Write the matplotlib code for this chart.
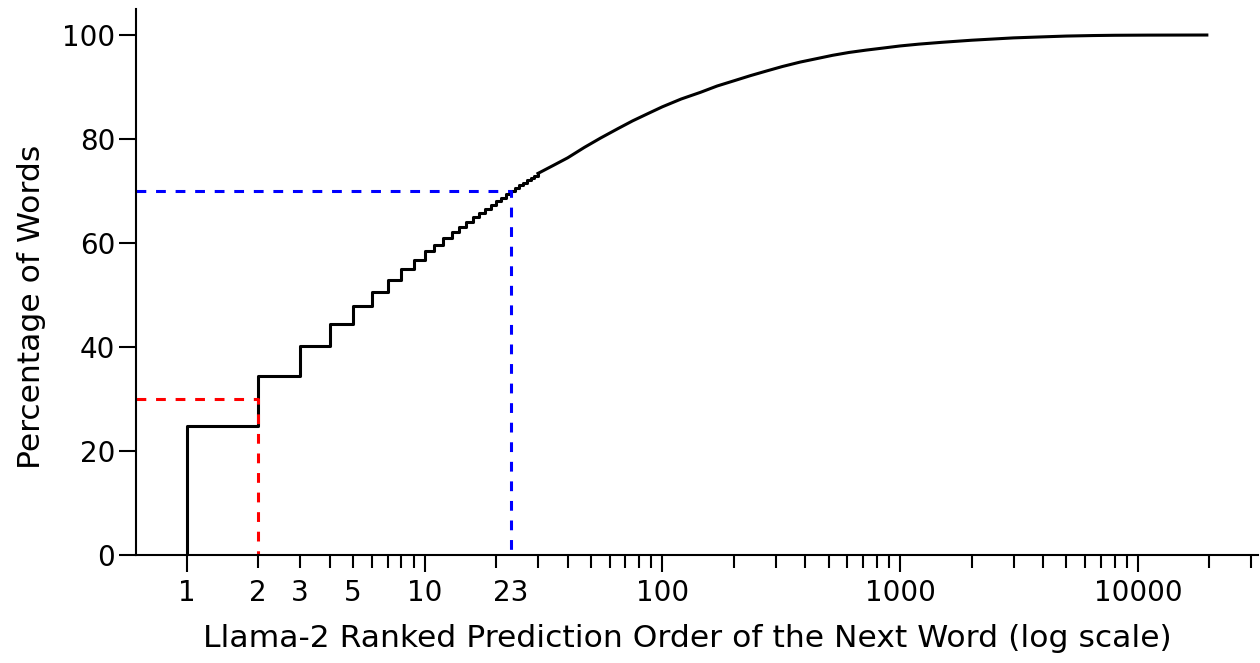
import matplotlib
matplotlib.use("Agg")
import matplotlib.pyplot as plt
from matplotlib.ticker import FixedLocator, FuncFormatter

# Cumulative share of words by rank of the true next word
step_rank = [1, 1, 2, 3, 4, 5, 6, 7, 8, 9, 10, 11, 12, 13, 14, 15, 16, 17, 18,
             19, 20, 21, 22, 23, 24, 25, 26, 27, 28, 29, 30]
step_pct = [0, 24.9, 34.4, 40.3, 44.5, 47.9, 50.6, 53.0, 55.0, 56.8, 58.4, 59.7,
            60.9, 62.2, 63.2, 64.1, 65.0, 65.8, 66.6, 67.4, 68.1, 68.7, 69.4,
            70.05, 70.6, 71.1, 71.6, 72.1, 72.55, 73.0, 73.4]

tail_rank = [30, 35, 40, 47, 55, 65, 75, 87, 100, 120, 145, 170, 200, 235, 275,
             320, 380, 450, 520, 610, 720, 850, 1000, 1200, 1500, 2000, 3000,
             4000, 5000, 6500, 8000, 11000, 19500]
tail_pct = [73.4, 75.0, 76.4, 78.4, 80.2, 82.0, 83.5, 84.9, 86.2, 87.7, 89.0,
            90.2, 91.2, 92.2, 93.1, 93.95, 94.8, 95.5, 96.1, 96.65, 97.1, 97.5,
            97.9, 98.25, 98.6, 99.0, 99.45, 99.65, 99.8, 99.9, 99.95, 99.98,
            100.0]

# reference markers
red_rank, red_pct = 2, 30
blue_rank, blue_pct = 23, 70

major_ticks = [1, 10, 100, 1000, 10000]
minor_labels = {2: "2", 3: "3", 5: "5"}
extra_label = 23

XMIN, XMAX = 0.612, 32000
FS = 20
LFS = 22.6
MAJ_LEN, MIN_LEN, PAD = 12, 9, 5
LW = 2.2

fig = plt.figure(figsize=(12.6, 6.63), dpi=100)
ax = fig.add_axes([136 / 1260, 107.6 / 663, 1122 / 1260, 546.4 / 663])

ax.step(step_rank, step_pct, where="post", color="black", lw=LW)
ax.plot(tail_rank, tail_pct, color="black", lw=LW)

dash = (3.2, 3.2)
ax.plot([XMIN, red_rank, red_rank], [red_pct, red_pct, 0], color="#ff0000",
        lw=LW, ls="--", dashes=dash)
ax.plot([XMIN, blue_rank, blue_rank], [blue_pct, blue_pct, 0], color="#0000ff",
        lw=LW, ls="--", dashes=dash)

ax.set_xscale("log")
ax.set_xlim(XMIN, XMAX)
ax.set_ylim(0, 105)

ax.xaxis.set_major_locator(FixedLocator(major_ticks))
ax.xaxis.set_major_formatter(FuncFormatter(lambda v, p: f"{v:g}"))
minor_pos = [m * 10 ** d for d in range(0, 5) for m in range(2, 10)]
ax.xaxis.set_minor_locator(FixedLocator([v for v in minor_pos if v < XMAX]))
ax.xaxis.set_minor_formatter(
    FuncFormatter(lambda v, p: minor_labels.get(int(round(v)), "")))

ax.set_yticks([0, 20, 40, 60, 80, 100])

ax.tick_params(axis="both", which="major", length=MAJ_LEN, width=1.5,
               labelsize=FS, pad=PAD)
ax.tick_params(axis="y", which="major", pad=3)
ax.tick_params(axis="x", which="minor", length=MIN_LEN, width=1.5,
               labelsize=FS, pad=PAD + MAJ_LEN - MIN_LEN)

ax.annotate(str(extra_label), xy=(extra_label, 0),
            xycoords=("data", "axes fraction"),
            xytext=(0, -(MAJ_LEN + PAD)), textcoords="offset points",
            ha="center", va="top", fontsize=FS)

for side in ("top", "right"):
    ax.spines[side].set_visible(False)
for side in ("left", "bottom"):
    ax.spines[side].set_linewidth(1.5)

ax.set_xlabel("Llama-2 Ranked Prediction Order of the Next Word (log scale)",
              fontsize=LFS)
ax.set_ylabel("Percentage of Words", fontsize=LFS)
ax.yaxis.set_label_coords(-0.080, 0.455)
ax.xaxis.set_label_coords(0.4915, -0.126)

fig.savefig("out.png", dpi=100)
